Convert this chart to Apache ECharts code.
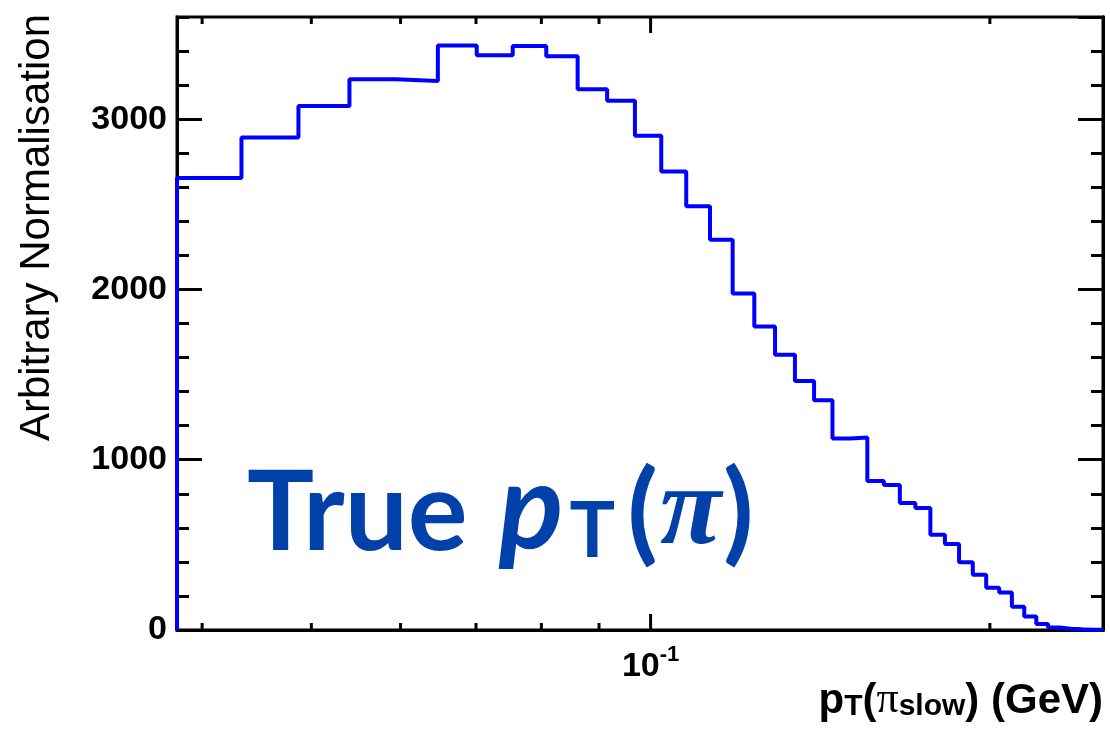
<!DOCTYPE html>
<html>
<head>
<meta charset="utf-8">
<script src="https://cdn.jsdelivr.net/npm/echarts@6/dist/echarts.min.js"></script>
<style>
html, body { margin: 0; padding: 0; background: #fff; }
#main { width: 1110px; height: 730px; }
</style>
</head>
<body>
<div id="main"></div>
<script>
// uniform pT bins
const binLow = 0.038;
const binWidth = 0.00535;
const counts = [2655, 2892, 3078, 3235, 3224, 3433, 3376, 3429, 3369, 3176,
  3108, 2902, 2692, 2489, 2292, 1976, 1782, 1616, 1463, 1350,
  1124, 1130, 875, 851, 746, 717, 559, 505, 398, 325,
  248, 220, 136, 80, 35, 15, 8, 4, 2, 1];

const xMin = 0.038, xMax = 0.252;
const xMajorTicks = [0.1];
const xMinorTicks = [0.04, 0.05, 0.06, 0.07, 0.08, 0.09, 0.2];
const yMax = 3600;

// histogram outline: start from 0 at left edge, step at every bin edge
const histData = [[binLow, 0]];
counts.forEach((c, i) => histData.push([binLow + i * binWidth, c]));
histData.push([binLow + counts.length * binWidth, counts[counts.length - 1]]);

const tickData = xMajorTicks.map(v => [v, 16]).concat(xMinorTicks.map(v => [v, 7]));

const chart = echarts.init(document.getElementById('main'));

function yAx(pos, interval, len, labels) {
  return {
    type: 'value', position: pos, min: 0, max: yMax, interval: interval,
    axisLine: { show: true, lineStyle: { color: '#000', width: 3 } },
    axisTick: { show: true, inside: true, length: len, lineStyle: { color: '#000', width: 3 } },
    axisLabel: {
      show: labels, showMaxLabel: false, margin: 10,
      formatter: v => String(v),
      color: '#000', fontFamily: 'Liberation Sans', fontWeight: 'bold', fontSize: 34
    },
    splitLine: { show: false }
  };
}

const blue = '#0341aa';

const option = {
  animation: false,
  grid: { left: 177, right: 7, top: 17, bottom: 100, show: true, borderColor: '#000', borderWidth: 3 },
  xAxis: [{
    type: 'log', logBase: 10, min: xMin, max: xMax,
    axisLine: { show: true, lineStyle: { color: '#000', width: 3 } },
    axisTick: { show: false },
    splitLine: { show: false },
    axisLabel: {
      margin: 14, showMinLabel: false, showMaxLabel: false,
      formatter: function (v) {
        const e = Math.log10(v);
        if (Math.abs(e - Math.round(e)) > 1e-6) return '';
        return '{b|10}{s|' + Math.round(e) + '}';
      },
      rich: {
        b: { fontFamily: 'Liberation Sans', fontWeight: 'bold', fontSize: 34, color: '#000', verticalAlign: 'bottom', lineHeight: 40 },
        s: { fontFamily: 'Liberation Sans', fontWeight: 'bold', fontSize: 22, color: '#000', verticalAlign: 'top', lineHeight: 22 }
      }
    }
  }],
  yAxis: [
    yAx('left', 1000, 25, true),
    yAx('left', 200, 12, false),
    yAx('right', 1000, 25, false),
    yAx('right', 200, 12, false)
  ],
  graphic: [
    {
      type: 'text', left: 16, top: 14,
      rotation: Math.PI / 2,
      style: {
        text: 'Arbitrary Normalisation',
        font: '42px "Liberation Sans"', fill: '#000'
      }
    },
    {
      type: 'text', right: 7, top: 678,
      style: {
        text: '{b|p}{s|T}{b|(}{pi|π}{s|slow}{b|) (GeV)}',
        rich: {
          b: { fontFamily: 'Liberation Sans', fontWeight: 'bold', fontSize: 42, fill: '#000', verticalAlign: 'bottom', lineHeight: 44 },
          pi: { fontFamily: 'Liberation Serif', fontSize: 44, fill: '#000', verticalAlign: 'bottom', lineHeight: 44 },
          s: { fontFamily: 'Liberation Sans', fontWeight: 'bold', fontSize: 30, fill: '#000', verticalAlign: 'bottom', lineHeight: 14 }
        }
      }
    },
    {
      type: 'text', left: 247, top: 450,
      style: {
        text: '{a|True }{p|p}{t|T}{par|(}{pi|π}{a|)}',
        rich: {
          a: { fontFamily: 'Lato', fontWeight: 'bold', fontSize: 112, fill: blue, verticalAlign: 'bottom', lineHeight: 120 },
          par: { fontFamily: 'Lato', fontWeight: 'bold', fontSize: 112, fill: blue, verticalAlign: 'bottom', lineHeight: 120, padding: [0, 0, 0, 8] },
          p: { fontFamily: 'Lato', fontWeight: 'bold', fontStyle: 'italic', fontSize: 120, fill: blue, verticalAlign: 'bottom', lineHeight: 120, padding: [0, 2, 0, 4] },
          t: { fontFamily: 'Lato', fontWeight: 'bold', fontSize: 76, fill: blue, verticalAlign: 'bottom', lineHeight: 28, padding: [0, 4, 0, 4] },
          pi: { fontFamily: 'Liberation Serif', fontStyle: 'italic', fontWeight: 'bold', fontSize: 112, fill: blue, verticalAlign: 'bottom', lineHeight: 120, padding: [0, 2, 0, 2] }
        }
      }
    }
  ],
  series: [
    {
      type: 'line', step: 'end', data: histData, symbol: 'none',
      xAxisIndex: 0, yAxisIndex: 0,
      lineStyle: { color: '#0000ff', width: 4 },
      z: 3
    },
    {
      type: 'custom', data: tickData, xAxisIndex: 0, yAxisIndex: 0, z: 4,
      renderItem: function (params, api) {
        const x = api.coord([api.value(0), 0])[0];
        const cs = params.coordSys;
        const len = api.value(1);
        const bottom = cs.y + cs.height;
        return {
          type: 'group',
          children: [
            { type: 'line', shape: { x1: x, y1: bottom, x2: x, y2: bottom - len }, style: { stroke: '#000', lineWidth: 3 } },
            { type: 'line', shape: { x1: x, y1: cs.y, x2: x, y2: cs.y + len }, style: { stroke: '#000', lineWidth: 3 } }
          ]
        };
      }
    }
  ]
};

chart.setOption(option);
</script>
</body>
</html>
